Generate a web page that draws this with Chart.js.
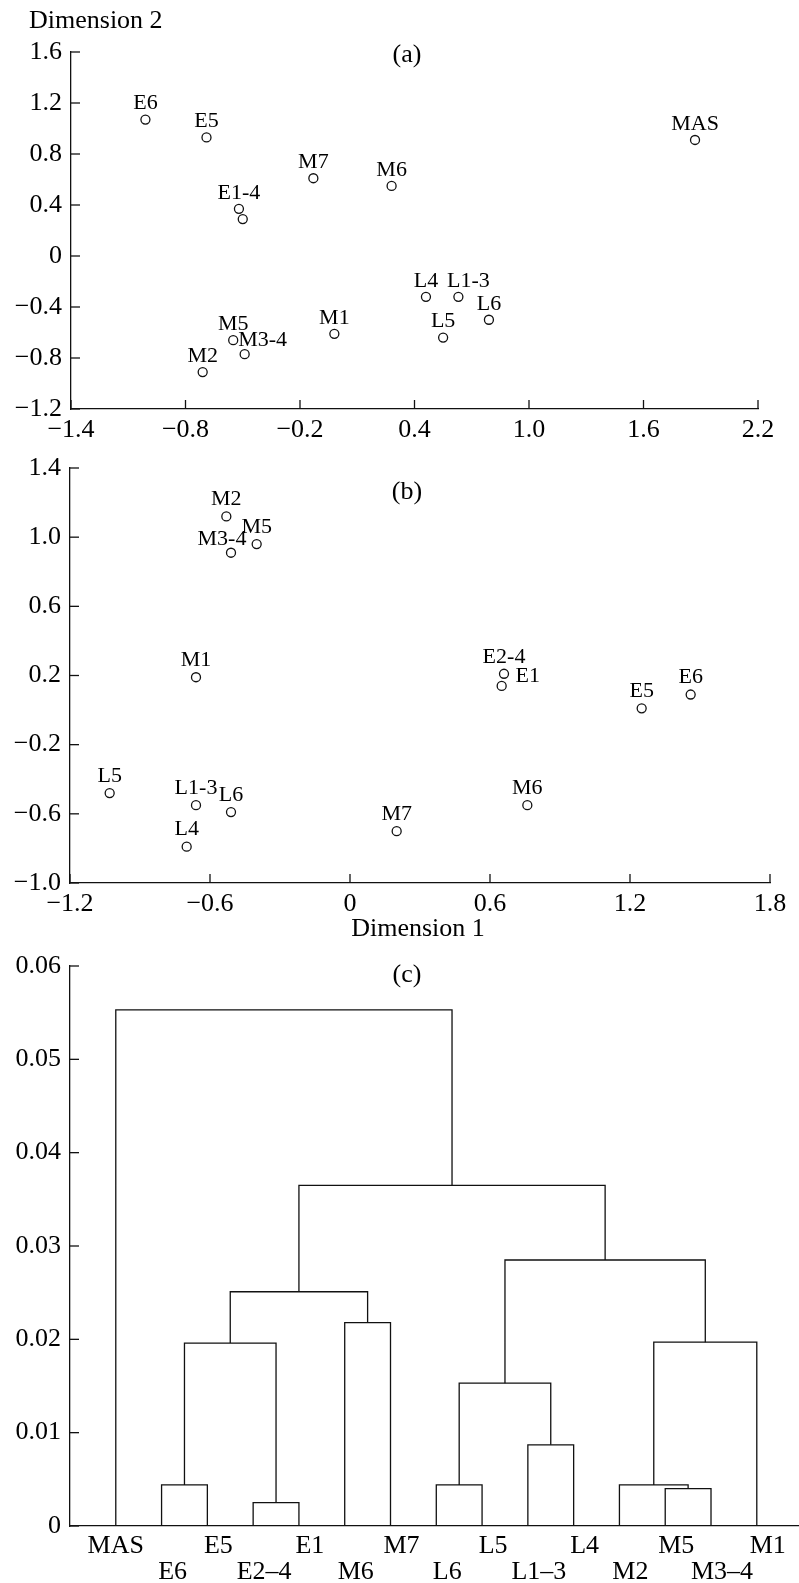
<!DOCTYPE html>
<html>
<head>
<meta charset="utf-8">
<script src="https://cdn.jsdelivr.net/npm/chart.js@4.4.1/dist/chart.umd.min.js"></script>
<style>
  body { margin: 0; background: #fff; }
  canvas { position: absolute; left: 0; }
</style>
</head>
<body>
<canvas id="chartA" width="799" height="445" style="top:0px"></canvas>
<canvas id="chartB" width="799" height="500" style="top:440px"></canvas>
<canvas id="chartC" width="799" height="643" style="top:940px"></canvas>
<script>
// (a) samples on dimension 1 / dimension 2
const namesA = ['E6', 'E5', 'M7', 'M6', 'E1-4', '', 'M5', 'M3-4', 'M2', 'M1', 'MAS', 'L4', 'L1-3', 'L6', 'L5'];
const dim1A = [-1.01, -0.69, -0.13, 0.28, -0.52, -0.50, -0.55, -0.49, -0.71, -0.02, 1.87, 0.46, 0.63, 0.79, 0.55];
const dim2A = [1.07, 0.93, 0.61, 0.55, 0.37, 0.29, -0.66, -0.77, -0.91, -0.61, 0.91, -0.32, -0.32, -0.50, -0.64];

// (b)
const namesB = ['M2', 'M5', 'M3-4', 'M1', 'L5', 'L1-3', 'L6', 'L4', 'M7', 'E2-4', 'E1', 'E5', 'E6', 'M6'];
const dim1B = [-0.53, -0.40, -0.51, -0.66, -1.03, -0.66, -0.51, -0.70, 0.20, 0.66, 0.65, 1.25, 1.46, 0.76];
const dim2B = [1.12, 0.96, 0.91, 0.19, -0.48, -0.55, -0.59, -0.79, -0.70, 0.21, 0.14, 0.01, 0.09, -0.55];

// (c) dendrogram: leaves in plotting order, then merges (nodes 15+ are the clusters, in order)
const leaves = ['MAS', 'E6', 'E5', 'E2–4', 'E1', 'M6', 'M7', 'L6', 'L5', 'L1–3', 'L4', 'M2', 'M5', 'M3–4', 'M1'];
const mergeLeft = [1, 3, 15, 5, 17, 7, 9, 20, 12, 11, 24, 22, 19, 0];
const mergeRight = [2, 4, 16, 6, 18, 8, 10, 21, 13, 23, 14, 25, 26, 27];
const mergeHeight = [0.0044, 0.0025, 0.0196, 0.0218, 0.0251, 0.0044, 0.0087, 0.0153, 0.0040, 0.0044, 0.0197, 0.0285, 0.0365, 0.0553];

const SERIF = "'Liberation Serif', 'Times New Roman', serif";
Chart.defaults.font.family = SERIF;
Chart.defaults.font.size = 26;
Chart.defaults.color = '#000';
Chart.defaults.animation = false;

const INK = '#111';

function fmt(dec) {
  return v => Math.abs(v) < 1e-9 ? '0' : v.toFixed(dec).replace('-', '\u2212');
}

function axis(min, max, step, dec, fitSize, horizontal, showTicks = true) {
  return {
    type: 'linear', min, max,
    grid: { display: false, drawTicks: false },
    border: { display: true, color: INK, width: 1.3 },
    ticks: { display: showTicks, stepSize: step, callback: fmt(dec), padding: horizontal ? 6 : 9 },
    afterFit: s => { if (horizontal) s.height = fitSize; else s.width = fitSize; }
  };
}

// tick marks drawn inside the plot, like the original
const inwardTicks = {
  id: 'inwardTicks',
  afterDraw(chart) {
    const ctx = chart.ctx;
    ctx.save();
    ctx.strokeStyle = INK;
    ctx.lineWidth = 1.3;
    ['x', 'y'].forEach(id => {
      const s = chart.scales[id];
      if (!s.options.ticks.display) return;
      s.ticks.forEach(t => {
        const p = s.getPixelForValue(t.value);
        ctx.beginPath();
        if (s.isHorizontal()) { ctx.moveTo(p, s.top); ctx.lineTo(p, s.top - 9); }
        else { ctx.moveTo(s.right, p); ctx.lineTo(s.right + 9, p); }
        ctx.stroke();
      });
    });
    ctx.restore();
  }
};

// names next to the points
const pointNames = {
  id: 'pointNames',
  afterDatasetsDraw(chart, args, opts) {
    if (!opts.names) return;
    const ctx = chart.ctx;
    const meta = chart.getDatasetMeta(0);
    ctx.save();
    ctx.font = '22px ' + SERIF;
    ctx.fillStyle = '#000';
    ctx.textAlign = 'center';
    ctx.textBaseline = 'middle';
    opts.names.forEach((n, i) => {
      if (!n) return;
      const pt = meta.data[i];
      const nd = (opts.nudge && opts.nudge[n]) || [0, opts.dy];
      ctx.fillText(n, pt.x + nd[0], pt.y + nd[1]);
    });
    ctx.restore();
  }
};

// free captions
const captions = {
  id: 'captions',
  afterDraw(chart, args, opts) {
    if (!opts.items) return;
    const ctx = chart.ctx;
    ctx.save();
    ctx.font = '26px ' + SERIF;
    ctx.fillStyle = '#000';
    ctx.textBaseline = 'middle';
    opts.items.forEach(it => {
      ctx.textAlign = it.align || 'center';
      ctx.fillText(it.text, it.x, it.y);
    });
    ctx.restore();
  }
};

Chart.register(inwardTicks, pointNames, captions);

function pointSet(xs, ys) {
  return {
    data: xs.map((x, i) => ({ x, y: ys[i] })),
    pointRadius: 4.5,
    pointHoverRadius: 4.5,
    pointBorderWidth: 1.3,
    borderColor: INK,
    backgroundColor: '#fff',
    clip: false
  };
}

const commonPlugins = { legend: { display: false }, tooltip: { enabled: false } };

new Chart(document.getElementById('chartA'), {
  type: 'scatter',
  data: { datasets: [pointSet(dim1A, dim2A)] },
  options: {
    responsive: false, devicePixelRatio: 1,
    layout: { padding: { top: 52, right: 41, left: 0, bottom: 0 } },
    scales: {
      x: axis(-1.4, 2.2, 0.6, 1, 36, true),
      y: axis(-1.2, 1.6, 0.4, 1, 71, false)
    },
    plugins: {
      ...commonPlugins,
      pointNames: { names: namesA, dy: -16, nudge: { 'M3-4': [18, -14], 'L1-3': [10, -16] } },
      captions: { items: [
        { text: 'Dimension 2', x: 29, y: 21, align: 'left' },
        { text: '(a)', x: 407, y: 55 }
      ] }
    }
  }
});

new Chart(document.getElementById('chartB'), {
  type: 'scatter',
  data: { datasets: [pointSet(dim1B, dim2B)] },
  options: {
    responsive: false, devicePixelRatio: 1,
    layout: { padding: { top: 28, right: 29, left: 0, bottom: 0 } },
    scales: {
      x: axis(-1.2, 1.8, 0.6, 1, 57, true),
      y: axis(-1.0, 1.4, 0.4, 1, 70, false)
    },
    plugins: {
      ...commonPlugins,
      pointNames: { names: namesB, dy: -17, nudge: { 'M3-4': [-9, -14], 'E1': [26, -10] } },
      captions: { items: [
        { text: '(b)', x: 407, y: 52 },
        { text: 'Dimension 1', x: 418, y: 489 }
      ] }
    }
  }
});

// dendrogram links built from the merge list
const nodeX = leaves.map((_, i) => i);
const nodeH = leaves.map(() => 0);
const links = [];
mergeHeight.forEach((h, k) => {
  const l = mergeLeft[k], r = mergeRight[k];
  links.push({
    data: [
      { x: nodeX[l], y: nodeH[l] }, { x: nodeX[l], y: h },
      { x: nodeX[r], y: h }, { x: nodeX[r], y: nodeH[r] }
    ],
    showLine: true, borderColor: INK, borderWidth: 1.3, pointRadius: 0, tension: 0, clip: false
  });
  nodeX.push((nodeX[l] + nodeX[r]) / 2);
  nodeH.push(h);
});

const leafNames = {
  id: 'leafNames',
  afterDraw(chart) {
    const ctx = chart.ctx;
    const s = chart.scales.x;
    ctx.save();
    ctx.font = '26px ' + SERIF;
    ctx.fillStyle = '#000';
    ctx.textAlign = 'center';
    ctx.textBaseline = 'middle';
    leaves.forEach((n, i) => {
      const x = s.getPixelForValue(i) + (i === 0 ? 0 : 11);
      const y = chart.chartArea.bottom + (i % 2 ? 46 : 20);
      ctx.fillText(n, x, y);
    });
    ctx.restore();
  }
};

new Chart(document.getElementById('chartC'), {
  type: 'scatter',
  data: { datasets: links },
  options: {
    responsive: false, devicePixelRatio: 1,
    layout: { padding: { top: 26, right: 1, left: 0, bottom: 0 } },
    scales: {
      x: axis(-1, 14.9, 1, 0, 57, true, false),
      y: axis(0, 0.06, 0.01, 2, 70, false)
    },
    plugins: {
      ...commonPlugins,
      captions: { items: [{ text: '(c)', x: 407, y: 35 }] }
    }
  },
  plugins: [leafNames]
});
</script>
</body>
</html>
